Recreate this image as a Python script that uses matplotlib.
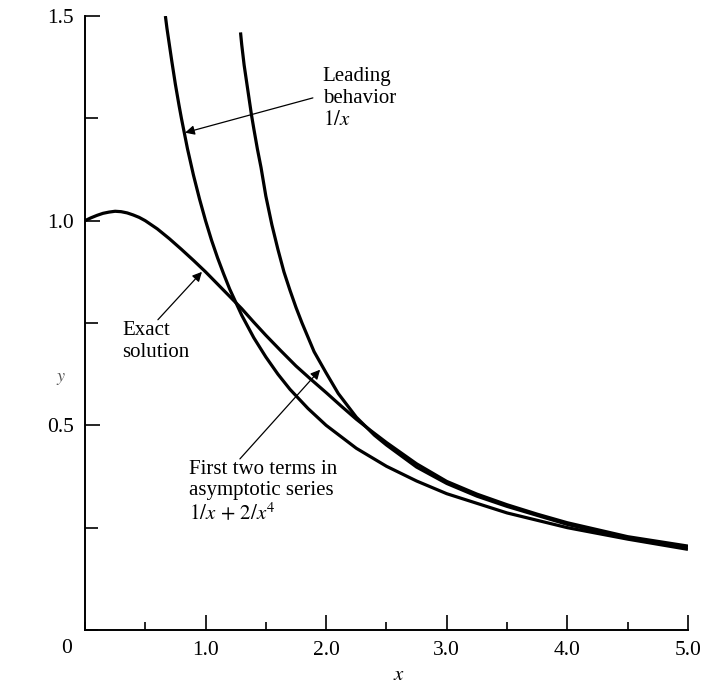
import matplotlib.pyplot as plt
from matplotlib.ticker import MultipleLocator, FixedLocator

plt.rcParams['font.family'] = ['Liberation Serif', 'DejaVu Serif']
plt.rcParams['mathtext.fontset'] = 'stix'

# curves
exactX = [0.0, 0.05, 0.1, 0.15, 0.2, 0.25, 0.3, 0.35, 0.4, 0.45, 0.5, 0.6, 0.7,
          0.8, 0.9, 1.0, 1.1, 1.2, 1.3, 1.4, 1.5, 1.625, 1.75, 1.875, 2.0,
          2.125, 2.25, 2.375, 2.5, 2.75, 3.0, 3.25, 3.5, 3.75, 4.0, 4.5, 5.0]
exactY = [1.0, 1.007, 1.013, 1.018, 1.021, 1.023, 1.022, 1.019, 1.014, 1.008,
          1.0, 0.98, 0.956, 0.93, 0.903, 0.875, 0.845, 0.815, 0.785, 0.752,
          0.72, 0.682, 0.645, 0.612, 0.58, 0.547, 0.515, 0.486, 0.458, 0.406,
          0.363, 0.332, 0.306, 0.283, 0.262, 0.228, 0.205]

leadX = [0.667, 0.68, 0.7, 0.72, 0.75, 0.78, 0.8, 0.85, 0.9, 0.95, 1.0, 1.05,
         1.1, 1.15, 1.2, 1.3, 1.4, 1.5, 1.6, 1.7, 1.85, 2.0, 2.25, 2.5, 2.75,
         3.0, 3.5, 4.0, 4.5, 5.0]
leadY = [1.5, 1.47, 1.43, 1.39, 1.333, 1.282, 1.25, 1.176, 1.111, 1.053, 1.0,
         0.952, 0.909, 0.87, 0.833, 0.769, 0.714, 0.667, 0.625, 0.588, 0.541,
         0.5, 0.444, 0.4, 0.364, 0.333, 0.286, 0.25, 0.222, 0.197]

twoX = [1.29, 1.3, 1.32, 1.34, 1.36, 1.38, 1.4, 1.43, 1.46, 1.5, 1.55, 1.6,
        1.65, 1.7, 1.75, 1.8, 1.9, 2.0, 2.1, 2.25, 2.4, 2.5, 2.75, 3.0, 3.25,
        3.5, 4.0, 4.5, 5.0]
twoY = [1.46, 1.43, 1.38, 1.34, 1.30, 1.26, 1.225, 1.175, 1.13, 1.06, 0.99,
        0.93, 0.875, 0.83, 0.788, 0.75, 0.68, 0.628, 0.578, 0.52, 0.476,
        0.452, 0.398, 0.358, 0.327, 0.302, 0.258, 0.224, 0.203]

xticks = [1, 2, 3, 4, 5]
xlabels = ['1.0', '2.0', '3.0', '4.0', '5.0']
yticks = [0.5, 1.0, 1.5]
ylabels = ['0.5', '1.0', '1.5']

fig = plt.figure(figsize=(7.02, 6.85), dpi=100)
ax = fig.add_axes([0.121, 0.0803, 0.859, 0.8963])

lw = 2.3
ax.plot(exactX, exactY, color='black', lw=lw, solid_capstyle='butt')
ax.plot(leadX, leadY, color='black', lw=lw, solid_capstyle='butt')
ax.plot(twoX, twoY, color='black', lw=lw, solid_capstyle='butt')

ax.set_xlim(0, 5)
ax.set_ylim(0, 1.5)
ax.spines['top'].set_visible(False)
ax.spines['right'].set_visible(False)
ax.spines['left'].set_linewidth(1.4)
ax.spines['bottom'].set_linewidth(1.4)

ax.xaxis.set_major_locator(FixedLocator(xticks))
ax.set_xticklabels(xlabels)
ax.xaxis.set_minor_locator(MultipleLocator(0.5))
ax.yaxis.set_major_locator(FixedLocator(yticks))
ax.set_yticklabels(ylabels)
ax.yaxis.set_minor_locator(MultipleLocator(0.25))

ax.tick_params(which='major', direction='in', length=11, width=1.2,
               labelsize=15.5, pad=8)
ax.tick_params(axis='x', which='minor', direction='in', length=6, width=1.2)
ax.tick_params(axis='y', which='minor', direction='in', length=9, width=1.2)

# origin label shared by both axes
ax.text(-0.15, -0.045, '0', fontsize=15.5, ha='center', va='center')

ax.text(2.6, -0.11, '$x$', fontsize=15, ha='center', va='center',
        clip_on=False)
ax.text(-0.2, 0.615, '$y$', fontsize=13, ha='center', va='center',
        color='#555555', clip_on=False)

arrowStyle = dict(arrowstyle='-|>', color='black', lw=0.9,
                  mutation_scale=14, shrinkA=0, shrinkB=0)

ax.annotate('', xy=(0.83, 1.215), xytext=(1.89, 1.30), arrowprops=arrowStyle)
ax.text(1.97, 1.375, 'Leading\nbehavior\n$1/x$', fontsize=15, ha='left',
        va='top', linespacing=1.2)

ax.annotate('', xy=(0.97, 0.875), xytext=(0.605, 0.758), arrowprops=arrowStyle)
ax.text(0.31, 0.755, 'Exact\nsolution', fontsize=15, ha='left', va='top',
        linespacing=1.2)

ax.annotate('', xy=(1.95, 0.636), xytext=(1.285, 0.418), arrowprops=arrowStyle)
ax.text(0.86, 0.415, 'First two terms in\nasymptotic series\n$1/x\\, +\\, 2/x^4$',
        fontsize=15, ha='left', va='top', linespacing=1.15)

fig.savefig('out.png', dpi=100, facecolor='white')
